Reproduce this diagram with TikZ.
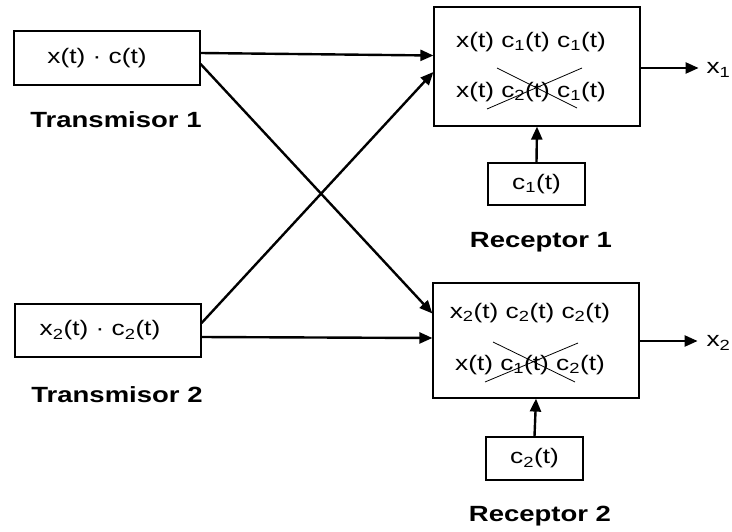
\documentclass[tikz,border=0pt]{standalone}
\usepackage{fontspec}
\setmainfont{Liberation Sans}[FakeStretch=1.25]
\usetikzlibrary{arrows.meta}
\newcommand\lowidx[1]{\textsubscript{#1}}
\tikzset{
  blk/.style={draw,line width=1.2pt,inner sep=0pt},
  txt/.style={font=\fontsize{21}{24}\selectfont},
  lbl/.style={font=\fontsize{22}{26}\selectfont\bfseries},
  sig/.style={line width=2.4pt,-{Triangle[length=13pt,width=11pt]}}
}
\begin{document}
\begin{tikzpicture}[x=1pt,y=-1pt]
  \useasboundingbox (0,0) rectangle (732,531);
  % transmitters
  \node[blk,minimum width=186pt,minimum height=54pt] at (107,58) (T1) {};
  \node[txt] at (97,58) {x(t) · c(t)};
  \node[lbl] at (116,120) (L1) {Transmisor 1};
  \node[blk,minimum width=186pt,minimum height=53pt] at (108,330.5) (T2) {};
  \node[txt] at (100,330.5) {x\lowidx{2}(t) · c\lowidx{2}(t)};
  \node[lbl] at (117,395) (L2) {Transmisor 2};
  % receivers
  \node[blk,minimum width=206pt,minimum height=119pt] at (537,66.5) (R1) {};
  \node[txt] at (531,42) (R1a) {x(t) c\lowidx{1}(t) c\lowidx{1}(t)};
  \node[txt] at (531,92) (R1b) {x(t) c\lowidx{2}(t) c\lowidx{1}(t)};
  \draw[line width=0.8pt] (497,68) -- (577,108) (487,109) -- (582,68);
  \node[blk,minimum width=97pt,minimum height=42pt] at (536.5,184) (C1) {};
  \node[txt] at (536.5,184) {c\lowidx{1}(t)};
  \node[lbl] at (541,242) (L3) {Receptor 1};
  \node[blk,minimum width=206pt,minimum height=115pt] at (536,340.5) (R2) {};
  \node[txt] at (530,313) (R2a) {x\lowidx{2}(t) c\lowidx{2}(t) c\lowidx{2}(t)};
  \node[txt] at (530,365) (R2b) {x(t) c\lowidx{1}(t) c\lowidx{2}(t)};
  \draw[line width=0.8pt] (493,342) -- (575,382) (485,382) -- (578,343);
  \node[blk,minimum width=97pt,minimum height=43pt] at (534.5,458.5) (C2) {};
  \node[txt] at (534.5,458.5) {c\lowidx{2}(t)};
  \node[lbl] at (540,516) (L4) {Receptor 2};
  % outputs
  \node[txt,anchor=west] at (703,70) (X1) {x\textsubscript{1}};
  \node[txt,anchor=west] at (703,343) (X2) {x\textsubscript{2}};
  % channel
  \draw[sig] ([yshift=5pt]T1.east) -- ([yshift=11pt]R1.west);
  \draw[sig] ([yshift=-6pt]T1.east) -- ([yshift=27pt]R2.west);
  \draw[sig] ([yshift=7.5pt]T2.east) -- ([yshift=-5.5pt]R1.west);
  \draw[sig] ([yshift=-6.5pt]T2.east) -- ([yshift=2.5pt]R2.west);
  \draw[sig] (C1.north) -- (R1.south);
  \draw[sig] (C2.north) -- (R2.south);
  \draw[sig] ([yshift=-1.5pt]R1.east) -- ++(58,0) coordinate (O1);
  \draw[sig] ([yshift=-0.5pt]R2.east) -- ++(58,0) coordinate (O2);
\end{tikzpicture}
\end{document}
